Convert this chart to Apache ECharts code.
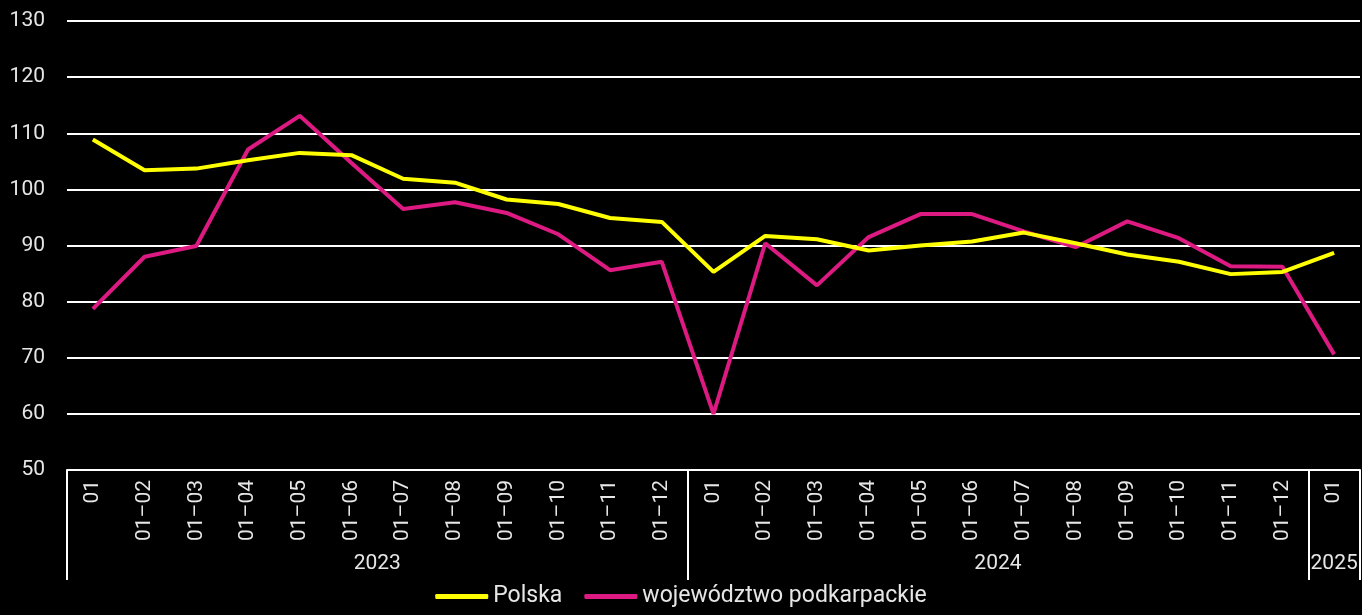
<!DOCTYPE html>
<html>
<head>
<meta charset="utf-8">
<script src="https://cdn.jsdelivr.net/npm/echarts@6/dist/echarts.min.js"></script>
<style>
  html, body { margin: 0; padding: 0; background: #000; }
  #chart { width: 1362px; height: 615px; }
</style>
</head>
<body>
<div id="chart"></div>
<script>
// months (labels on the lower axis)
const months = [
  '01', '01–02', '01–03', '01–04', '01–05', '01–06', '01–07', '01–08', '01–09', '01–10', '01–11', '01–12',
  '01', '01–02', '01–03', '01–04', '01–05', '01–06', '01–07', '01–08', '01–09', '01–10', '01–11', '01–12',
  '01'
];
// year groups: name, first index, count
const years = ['2023', '2024', '2025'];
const yearStart = [0, 12, 24];
const yearCount = [12, 12, 1];

const polska = [
  108.9, 103.4, 103.7, 105.2, 106.5, 106.1, 101.9, 101.2, 98.2, 97.4, 94.9, 94.2,
  85.3, 91.7, 91.1, 89.1, 90.0, 90.7, 92.3, 90.4, 88.4, 87.1, 84.9, 85.3,
  88.7
];
const podkarpackie = [
  78.7, 88.0, 89.9, 107.1, 113.1, 104.7, 96.5, 97.7, 95.8, 92.0, 85.6, 87.1,
  60.0, 90.4, 82.9, 91.5, 95.6, 95.6, 92.5, 89.7, 94.3, 91.3, 86.3, 86.2,
  70.6
];

const FONT = 'Roboto, sans-serif';
const TXT = '#e6e6e6';

// year separators and label centres on a 0..N value axis
const sepValues = yearStart.concat([months.length]);
const yearCentres = yearStart.map((s, i) => s + yearCount[i] / 2);

const chart = echarts.init(document.getElementById('chart'));
chart.setOption({
  backgroundColor: '#000',
  animation: false,
  textStyle: { fontFamily: FONT },
  grid: { left: 67, right: 2, top: 21, bottom: 145, containLabel: false },
  legend: {
    bottom: 2,
    left: 'center',
    icon: 'roundRect',
    itemWidth: 53,
    itemHeight: 5,
    itemGap: 22,
    textStyle: { color: TXT, fontSize: 23, fontFamily: FONT },
    data: ['Polska', 'województwo podkarpackie']
  },
  xAxis: [
    {
      type: 'category',
      data: months,
      boundaryGap: true,
      axisLine: { show: true, lineStyle: { color: '#fff', width: 2 } },
      axisTick: { show: false },
      axisLabel: {
        color: TXT, fontSize: 21, rotate: 90, margin: 10, interval: 0, fontFamily: FONT
      },
      splitLine: { show: false }
    },
    {
      type: 'value',
      position: 'bottom',
      min: 0,
      max: months.length,
      axisLine: { show: false },
      axisTick: {
        show: true,
        length: 110,
        customValues: sepValues,
        lineStyle: { color: '#fff', width: 2 }
      },
      axisLabel: {
        show: true,
        customValues: yearCentres,
        margin: 83,
        color: TXT,
        fontSize: 21,
        fontFamily: FONT,
        formatter: function (v) {
          const i = yearCentres.indexOf(v);
          return i >= 0 ? years[i] : '';
        }
      },
      splitLine: { show: false }
    }
  ],
  yAxis: {
    type: 'value',
    min: 50,
    max: 130,
    interval: 10,
    axisLine: { show: false },
    axisTick: { show: false },
    axisLabel: { color: TXT, fontSize: 21, margin: 22, fontFamily: FONT },
    splitLine: { lineStyle: { color: '#fff', width: 2 } }
  },
  series: [
    {
      name: 'Polska',
      type: 'line',
      data: polska,
      symbol: 'none',
      lineStyle: { color: '#ffff00', width: 4 },
      itemStyle: { color: '#ffff00' },
      z: 3
    },
    {
      name: 'województwo podkarpackie',
      type: 'line',
      data: podkarpackie,
      symbol: 'none',
      lineStyle: { color: '#dc1a82', width: 4 },
      itemStyle: { color: '#dc1a82' },
      z: 2
    }
  ]
});
</script>
</body>
</html>
